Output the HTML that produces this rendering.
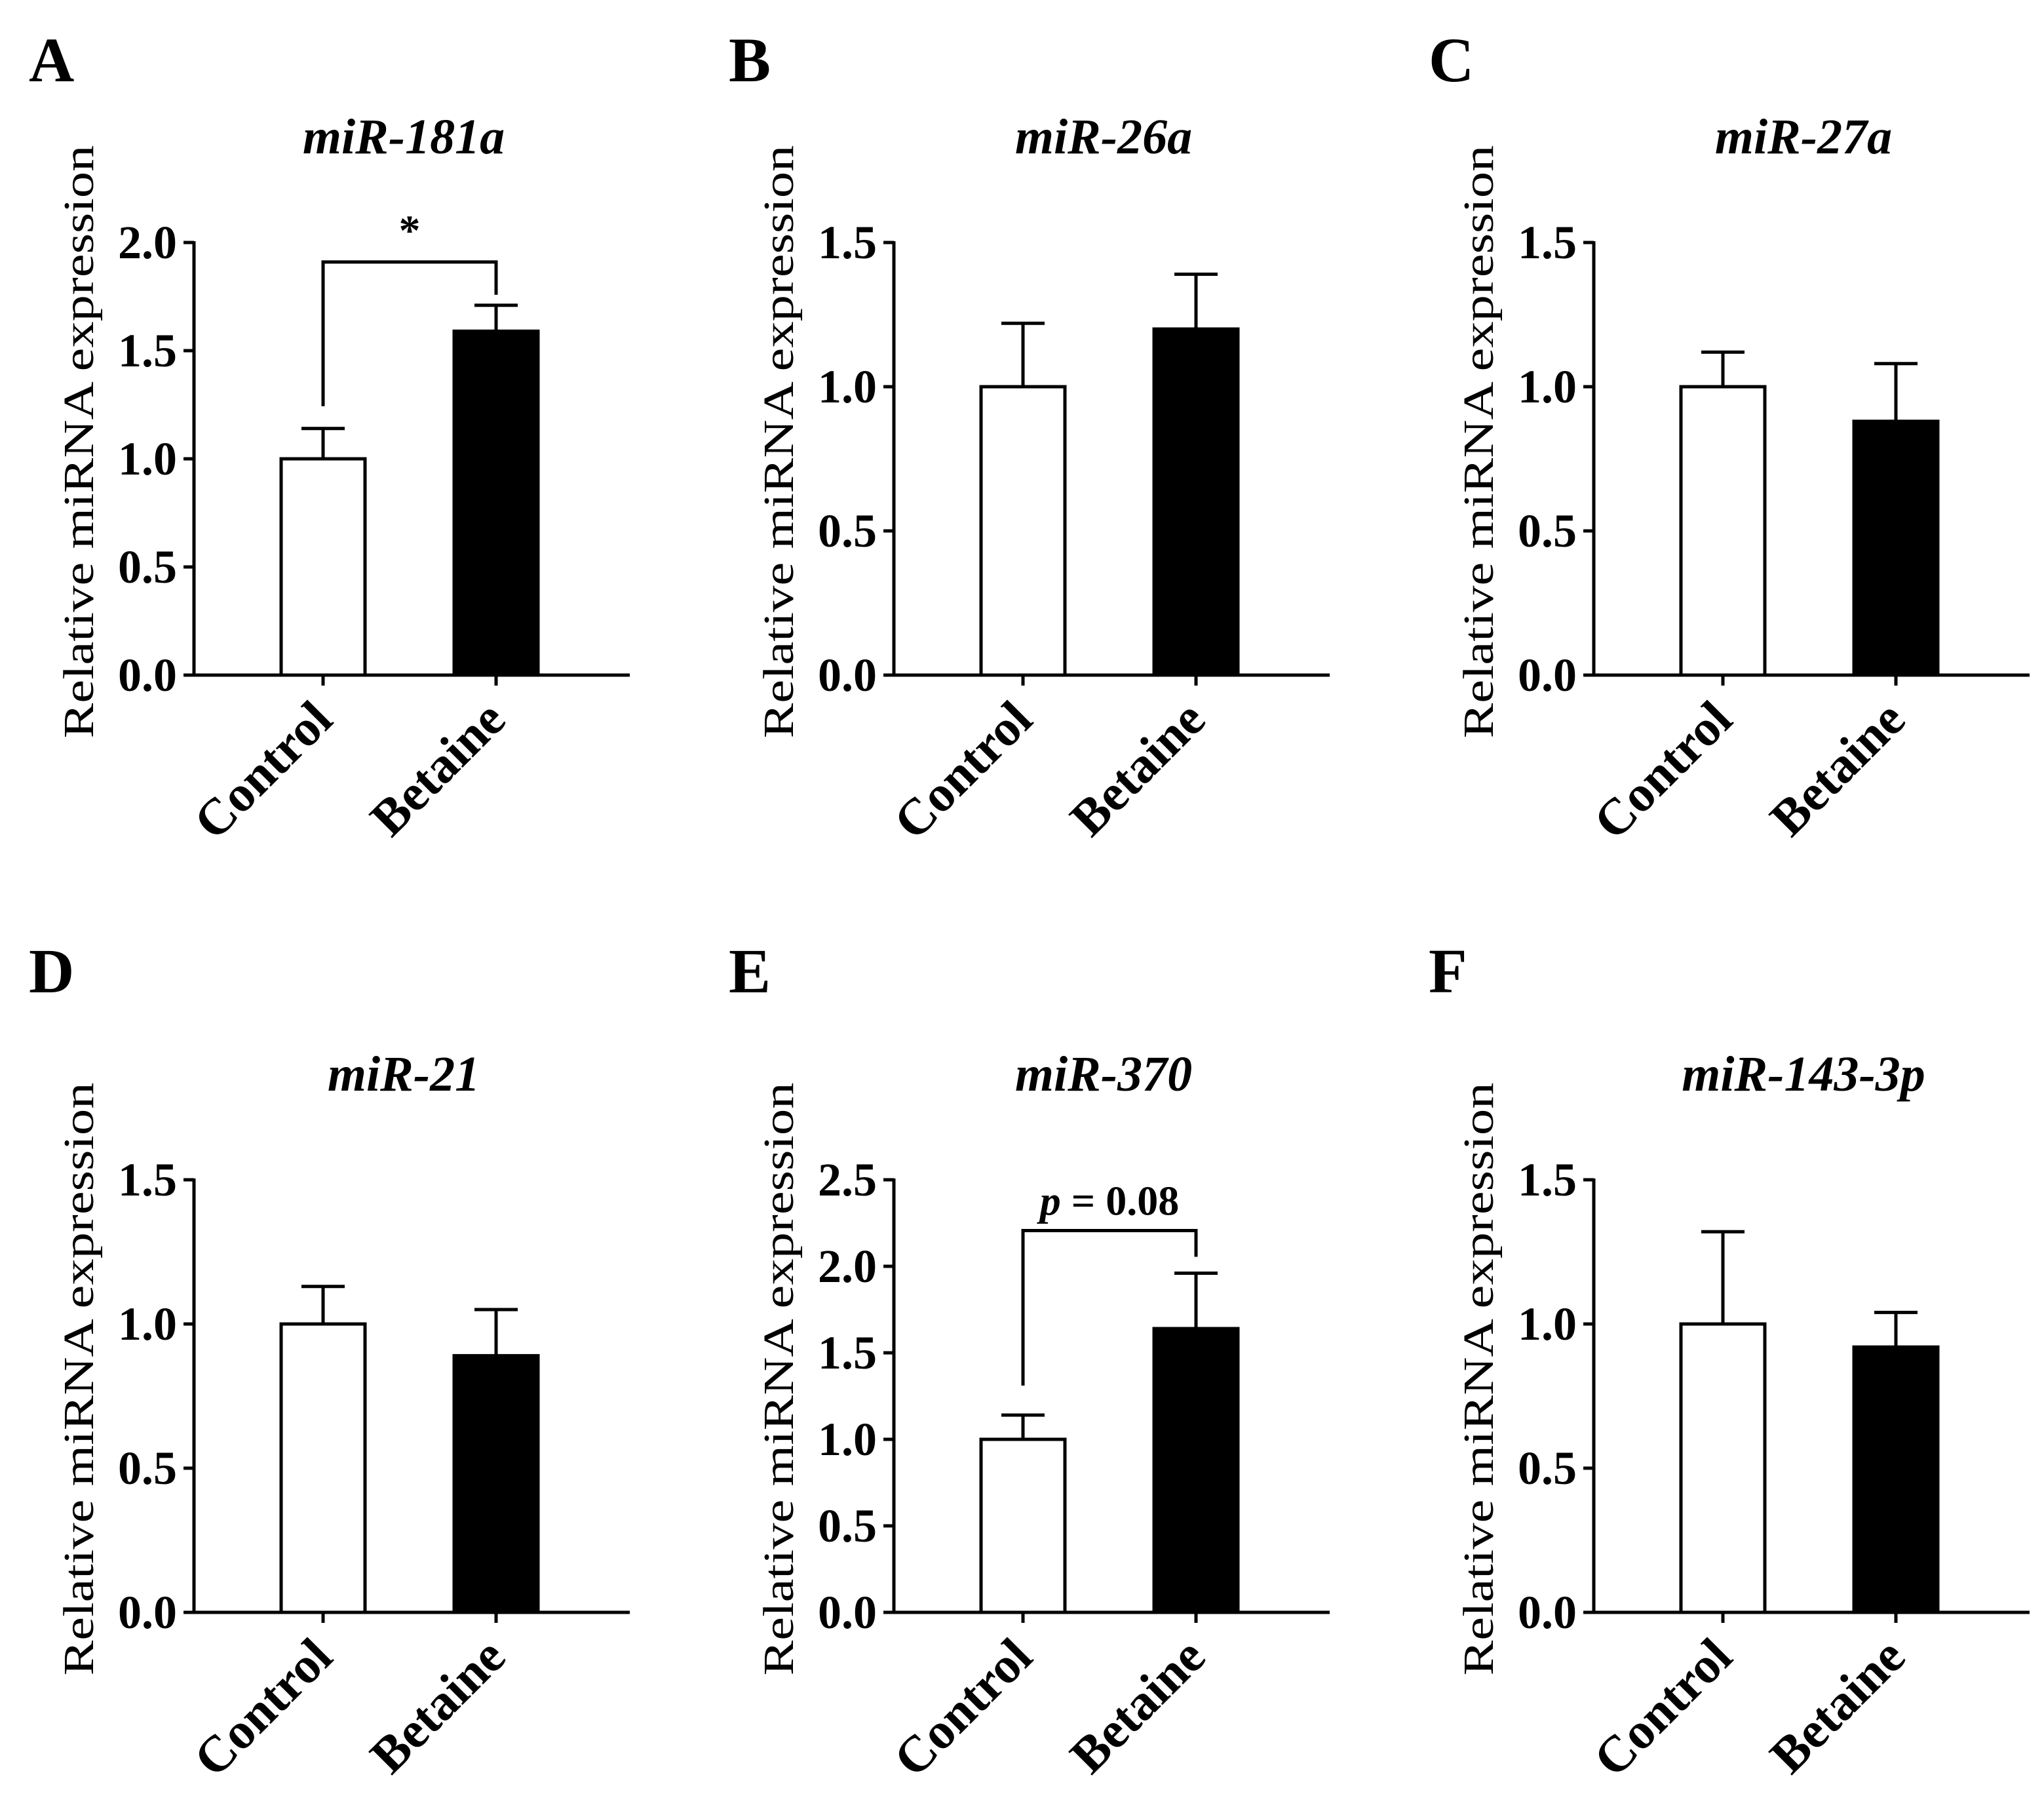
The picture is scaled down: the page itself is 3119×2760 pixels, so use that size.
<!DOCTYPE html>
<html><head><meta charset="utf-8"><style>
html,body{margin:0;padding:0;background:#fff;}
svg{display:block;}
text{font-family:"Liberation Serif",serif;fill:#000;}
</style></head><body>
<svg id="fig" width="3119" height="2760" viewBox="0 0 3119 2760" xmlns="http://www.w3.org/2000/svg"></svg>
<script>
const panelLetters = ["A","B","C","D","E","F"];
const panelTitles = ["miR-181a","miR-26a","miR-27a","miR-21","miR-370","miR-143-3p"];
const categories = ["Control","Betaine"];
const controlValues = [1.0,1.0,1.0,1.0,1.0,1.0];
const controlErrors = [0.14,0.22,0.12,0.13,0.14,0.32];
const betaineValues = [1.59,1.20,0.88,0.89,1.64,0.92];
const betaineErrors = [0.12,0.19,0.20,0.16,0.32,0.12];
const yMaxes = [2.0,1.5,1.5,1.5,2.5,1.5];
const tickLabels = [
  ["0.0","0.5","1.0","1.5","2.0"],
  ["0.0","0.5","1.0","1.5"],
  ["0.0","0.5","1.0","1.5"],
  ["0.0","0.5","1.0","1.5"],
  ["0.0","0.5","1.0","1.5","2.0","2.5"],
  ["0.0","0.5","1.0","1.5"]
];
const annotations = ["*","","","","p = 0.08",""];

const NS="http://www.w3.org/2000/svg";
const svg=document.getElementById('fig');
function mk(tag,attrs,parent){const e=document.createElementNS(NS,tag);for(const k in attrs)e.setAttribute(k,attrs[k]);(parent||svg).appendChild(e);return e;}

const colX=[296,1364,2432];
const rowBase=[1030,2460];
const letterY=[124,1514];
const plotH=660, axisLen=665;
const barRel=[[133,261],[397,525]];
const SW=5;

for(let p=0;p<6;p++){
  const ax=colX[p%3], base=rowBase[Math.floor(p/3)];
  const g=mk('g',{});
  
  
  const yS=v=>base-v/yMaxes[p]*plotH;
  const L=mk('text',{x:ax-252,y:letterY[Math.floor(p/3)],'font-size':96,'font-weight':'bold'},g);
  L.textContent=panelLetters[p];
  
  
  const T=mk('text',{x:ax+320,y:base-796,'font-size':76,'font-weight':'bold','font-style':'italic','text-anchor':'middle'},g);
  T.textContent=panelTitles[p];
  
  
  const yc=(base+yS(yMaxes[p]))/2-26;
  const YT=mk('text',{x:0,y:0,'font-size':66,'text-anchor':'middle',textLength:905,lengthAdjust:'spacingAndGlyphs',transform:`translate(${ax-154},${yc}) rotate(-90)`},g);
  YT.textContent="Relative miRNA expression";
  
  
  const ya=mk('line',{x1:ax,y1:yS(yMaxes[p])-2,x2:ax,y2:base,stroke:'#000','stroke-width':SW},g);
  
  
  tickLabels[p].forEach(t=>{
    const y=yS(parseFloat(t));
    mk('line',{x1:ax-16,y1:y,x2:ax,y2:y,stroke:'#000','stroke-width':SW},g);
    const tl=mk('text',{x:ax-26,y:y+24,'font-size':72,'font-weight':'bold','text-anchor':'end'},g);
    tl.textContent=t;
    
    
  });
  const xa=mk('line',{x1:ax-16,y1:base,x2:ax+axisLen,y2:base,stroke:'#000','stroke-width':SW},g);
  
  
  const vals=[controlValues[p],betaineValues[p]], errs=[controlErrors[p],betaineErrors[p]];
  for(let i=0;i<2;i++){
    const x0=ax+barRel[i][0], x1=ax+barRel[i][1], cx=(x0+x1)/2;
    const top=yS(vals[i]), et=yS(vals[i]+errs[i]);
    mk('line',{x1:cx,y1:top,x2:cx,y2:et,stroke:'#000','stroke-width':SW},g);
    mk('line',{x1:cx-33,y1:et,x2:cx+33,y2:et,stroke:'#000','stroke-width':SW},g);
    const b=mk('rect',{x:x0,y:top,width:x1-x0,height:base-top,fill:i?'#000':'#fff',stroke:'#000','stroke-width':SW},g);
    
    
    mk('line',{x1:cx,y1:base,x2:cx,y2:base+16,stroke:'#000','stroke-width':SW},g);
    const xl=mk('text',{x:0,y:0,'font-size':78,'font-weight':'bold','text-anchor':'end',transform:`translate(${cx+18},${base+72}) rotate(-45)`},g);
    xl.textContent=categories[i];
    
    
  }
  if(annotations[p]){
    const c0=ax+(barRel[0][0]+barRel[0][1])/2, c1=ax+(barRel[1][0]+barRel[1][1])/2;
    const leftBot=yS(vals[0]+errs[0])-(p===0?34:45), rightBot=yS(vals[1]+errs[1])-(p===0?16:25);
    const topY=rightBot-(p===0?50:40);
    const br=mk('path',{d:`M${c0},${leftBot} V${topY} H${c1} V${rightBot}`,fill:'none',stroke:'#000','stroke-width':SW},g);
    
    
    const at=mk('text',{x:(c0+c1)/2,y:topY-(p===0?26:24),'font-size':p===0?66:64,'font-weight':'bold','text-anchor':'middle'},g);
    
    
    if(p===4){
      const ps=mk('tspan',{'font-style':'italic'},at);ps.textContent='p';
      const rest=mk('tspan',{},at);rest.textContent=' = 0.08';
    } else at.textContent=annotations[p];
  }
}
</script>
</body></html>
